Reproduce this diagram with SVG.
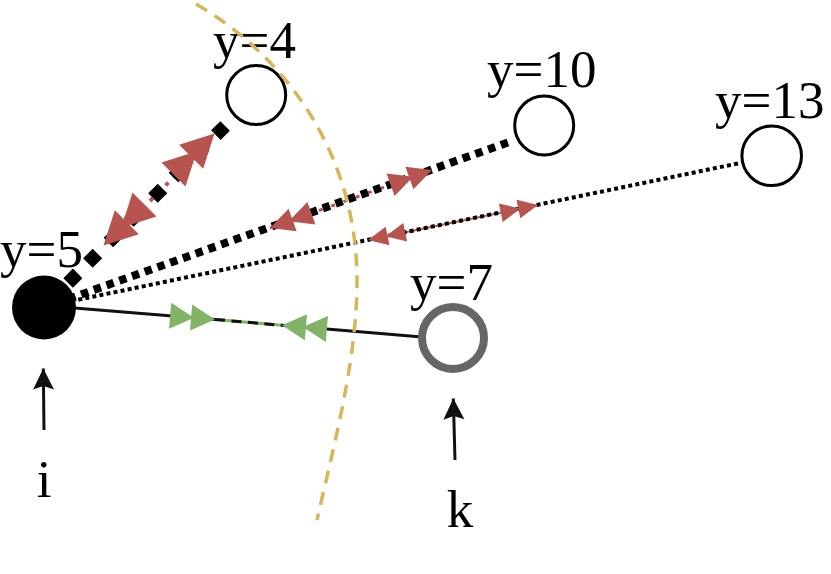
<svg xmlns="http://www.w3.org/2000/svg" width="831" height="574" viewBox="0 0 831 574">
  <style>
    .lbl { font-family: "Liberation Serif", "Times New Roman", serif; font-size: 53px; fill: #000; }
    .node { fill: #fff; stroke: #000; stroke-width: 3; }
    .red { fill: #b85450; stroke: none; }
    .green { fill: #82b366; stroke: none; }
    .ptr { stroke: #111; stroke-width: 3; fill: none; marker-end: url(#ah); }
  </style>
  <defs>
    <marker id="ah" markerUnits="userSpaceOnUse" markerWidth="24" markerHeight="24" viewBox="-22 -12 24 24" refX="0" refY="0" orient="auto">
      <path d="M0,0 L-21,-10.5 L-17.5,0 L-21,10.5 Z" fill="#111"/>
    </marker>
  </defs>
  <rect width="831" height="574" fill="#fff"/>

  <g id="connectors">
    <!-- i - y=4 -->
    <line x1="150" y1="201" x2="191" y2="160" stroke="#b85450" stroke-width="4" stroke-dasharray="4 7"/>
    <line x1="68.1" y1="282.9" x2="225.1" y2="125.9" stroke="#000" stroke-width="13.5" stroke-dasharray="13.5 14.5 13.5 15.5 13.5 15.5 13.5 20.5 13.5 15.5 13.5 16.5 13.5 16.5 13.5 100"/>
    <path class="red" transform="translate(214.5,133.5) rotate(-45)" d="M0,0 L-33,-17 L-33,17 Z M-25,0 L-58,-17 L-58,17 Z"/>
    <path class="red" transform="translate(103.5,245.5) rotate(135)" d="M0,0 L-33,-17 L-33,17 Z M-25,0 L-58,-17 L-58,17 Z"/>

    <!-- i - y=10 -->
    <line x1="270" y1="228" x2="432" y2="170" stroke="#b85450" stroke-width="3" stroke-dasharray="4 9"/>
    <line x1="43" y1="308" x2="512" y2="141" stroke="#000" stroke-width="8" stroke-dasharray="7.5 6"/>
    <path class="red" transform="translate(432,170) rotate(-19.6)" d="M0,0 L-24,-12 L-24,12 Z M-20,0 L-44,-12 L-44,12 Z"/>
    <path class="red" transform="translate(270,228) rotate(160.4)" d="M0,0 L-24,-12 L-24,12 Z M-20,0 L-44,-12 L-44,12 Z"/>

    <!-- i - y=13 -->
    <line x1="368" y1="240" x2="538" y2="205" stroke="#b85450" stroke-width="2"/>
    <line x1="43" y1="307" x2="740" y2="163" stroke="#000" stroke-width="4" stroke-dasharray="4 3.2"/>
    <path class="red" transform="translate(538,205) rotate(-11.67)" d="M0,0 L-20,-9.5 L-20,9.5 Z M-18,0 L-38,-9.5 L-38,9.5 Z"/>
    <path class="red" transform="translate(368,240) rotate(168.33)" d="M0,0 L-20,-9.5 L-20,9.5 Z M-18,0 L-38,-9.5 L-38,9.5 Z"/>

    <!-- i - k -->
    <line x1="44" y1="305.5" x2="215" y2="319.5" stroke="#111" stroke-width="3"/>
    <line x1="215" y1="319.5" x2="282" y2="325.3" stroke="#82b366" stroke-width="3"/>
    <line x1="215" y1="319.5" x2="282" y2="325.3" stroke="#111" stroke-width="3" stroke-dasharray="10 6.5"/>
    <line x1="282" y1="325.3" x2="422" y2="337" stroke="#111" stroke-width="3"/>
    <path class="green" transform="translate(215,319.5) rotate(4.76)" d="M0,0 L-24,-13 L-24,13 Z M-21,0 L-45,-13 L-45,13 Z"/>
    <path class="green" transform="translate(282,325.3) rotate(184.76)" d="M0,0 L-24,-13 L-24,13 Z M-21,0 L-45,-13 L-45,13 Z"/>

    <!-- pointers -->
    <line class="ptr" x1="44" y1="430" x2="43.3" y2="368.5"/>
    <line class="ptr" x1="455" y1="460" x2="453.3" y2="398.5"/>
  </g>

  <g id="node-i">
    <circle cx="44" cy="307.5" r="32" fill="#000"/>
    <text class="lbl" x="0" y="267">y=5</text>
    <text class="lbl" x="44" y="497" text-anchor="middle">i</text>
  </g>
  <g id="node-y4">
    <circle class="node" cx="256.2" cy="95" r="29.5"/>
    <text class="lbl" x="213" y="58">y=4</text>
  </g>
  <g id="node-y10">
    <circle class="node" cx="544.2" cy="125.5" r="29.5"/>
    <text class="lbl" x="487" y="87">y=10</text>
  </g>
  <g id="node-y13">
    <circle class="node" cx="771.7" cy="155.8" r="29.8"/>
    <text class="lbl" x="715" y="118">y=13</text>
  </g>
  <g id="node-k">
    <circle cx="453" cy="338" r="31" fill="#fff" stroke="#666666" stroke-width="8"/>
    <text class="lbl" x="410" y="300">y=7</text>
    <text class="lbl" x="460" y="527" text-anchor="middle">k</text>
  </g>

  <g id="boundary">
    <path d="M196,4 C295.7,62.5 357,164 357,280 C357,360 335,440 317,520" fill="none" stroke="#d6b656" stroke-width="3.5" stroke-dasharray="13 9"/>
  </g>
</svg>
